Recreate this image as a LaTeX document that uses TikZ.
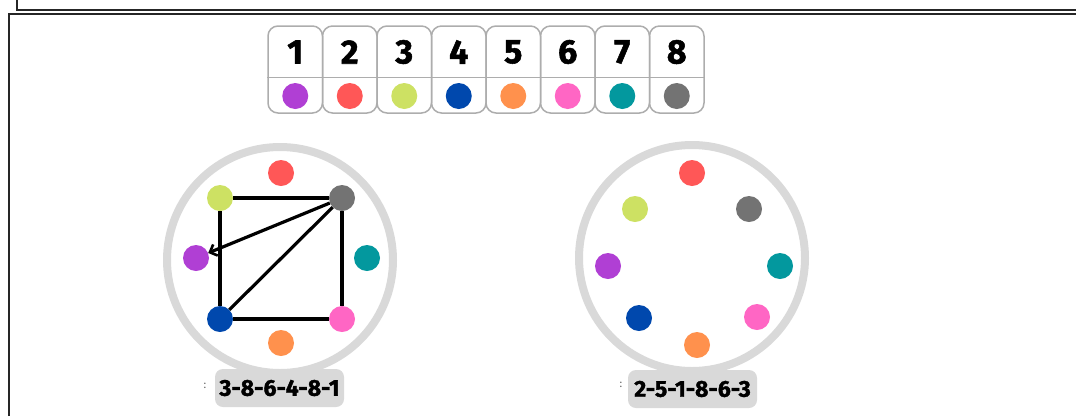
\documentclass[tikz,border=0pt]{standalone}
\usepackage{fontspec}
\setmainfont{Fira Sans}
\newfontfamily\heavyfont[BoldFeatures={FakeBold=1.6}]{Fira Sans}
\usetikzlibrary{arrows.meta,positioning}

\definecolor{cPurple}{HTML}{B03FD4}
\definecolor{cRed}{HTML}{FF5757}
\definecolor{cLime}{HTML}{CDE163}
\definecolor{cBlue}{HTML}{0048AD}
\definecolor{cOrange}{HTML}{FF914D}
\definecolor{cPink}{HTML}{FF66C4}
\definecolor{cTeal}{HTML}{03989E}
\definecolor{cGray}{HTML}{737373}
\definecolor{ringgray}{HTML}{D9D9D9}

\begin{document}
\begin{tikzpicture}[x=1pt,y=-1pt,
      font=\bfseries,
      frame/.style={line width=1.2pt,black!85},
      cell/.style={draw=black!32,line width=1.5pt,rounded corners=10pt,
                   minimum width=54.5pt,minimum height=87pt,inner sep=0pt},
      num/.style={font=\fontsize{34}{34}\selectfont\heavyfont\bfseries},
      dot/.style={circle,fill=#1,minimum size=26pt,inner sep=0pt},
      ring/.style={circle,draw=ringgray,line width=8pt,minimum size=226pt,
                   inner sep=0pt},
      seq/.style={fill=ringgray,rounded corners=8pt,minimum width=129pt,
                  minimum height=38pt,
                  font=\fontsize{23}{23}\selectfont\heavyfont\bfseries},
      colonmark/.style={text=black!60,font=\fontsize{11}{11}\selectfont},
      edge/.style={line width=3.2pt},
      arr/.style={edge,-{Straight Barb[length=6pt,width=12pt,line width=2.6pt]}}]
    \useasboundingbox (0,0) rectangle (1076,416);
    % outer frames
    \draw[frame] (17,0) -- (17,10) -- (1076,10);
    \draw[frame] (9,416) -- (9,14) -- (1076,14);

    % legend
    \foreach \i/\c in {1/cPurple,2/cRed,3/cLime,4/cBlue,5/cOrange,6/cPink,7/cTeal,8/cGray}{
      \node[cell] (cell\i) at (240.75+54.5*\i,69.5) {};
      \draw[draw=black!32,line width=1.5pt] ([yshift=-8pt]cell\i.west) -- ([yshift=-8pt]cell\i.east);
      \node[num] (num\i) at (240.75+54.5*\i,52) {\i};
      \node[dot=\c] (key\i) at (240.75+54.5*\i,96) {};
    }

    % left circle
    \node[ring] (ringL) at (280,260) {};
    \node[dot=cRed] (l2) at (281,173) {};
    \node[dot=cLime] (l3) at (220,198) {};
    \node[dot=cGray] (l8) at (342,198) {};
    \node[dot=cPurple] (l1) at (196,258) {};
    \node[dot=cTeal] (l7) at (367,258) {};
    \node[dot=cBlue] (l4) at (220,319) {};
    \node[dot=cPink] (l6) at (342,319) {};
    \node[dot=cOrange] (l5) at (281,343) {};
    \draw[edge] (l3) -- (l8);
    \draw[edge] (l8) -- (l6);
    \draw[edge] (l6) -- (l4);
    \draw[edge] (l4) -- (l8);
    \draw[edge] (l3) -- (l4);
    \draw[arr] (l8) -- (l1);
    \node[seq] (seqL) at (279.5,388) {3-8-6-4-8-1};
    \node[colonmark] (colL) at (205,386) {:};

    % right circle
    \node[ring] (ringR) at (692,258) {};
    \node[dot=cRed] (r2) at (692,173) {};
    \node[dot=cLime] (r3) at (635,209) {};
    \node[dot=cGray] (r8) at (749,209) {};
    \node[dot=cPurple] (r1) at (608,266) {};
    \node[dot=cTeal] (r7) at (780,266) {};
    \node[dot=cBlue] (r4) at (639,318) {};
    \node[dot=cPink] (r6) at (757,317) {};
    \node[dot=cOrange] (r5) at (697,345) {};
    \node[seq] (seqR) at (692.5,389) {2-5-1-8-6-3};
    \node[colonmark] (colR) at (621,385) {:};
  \end{tikzpicture}
\end{document}
